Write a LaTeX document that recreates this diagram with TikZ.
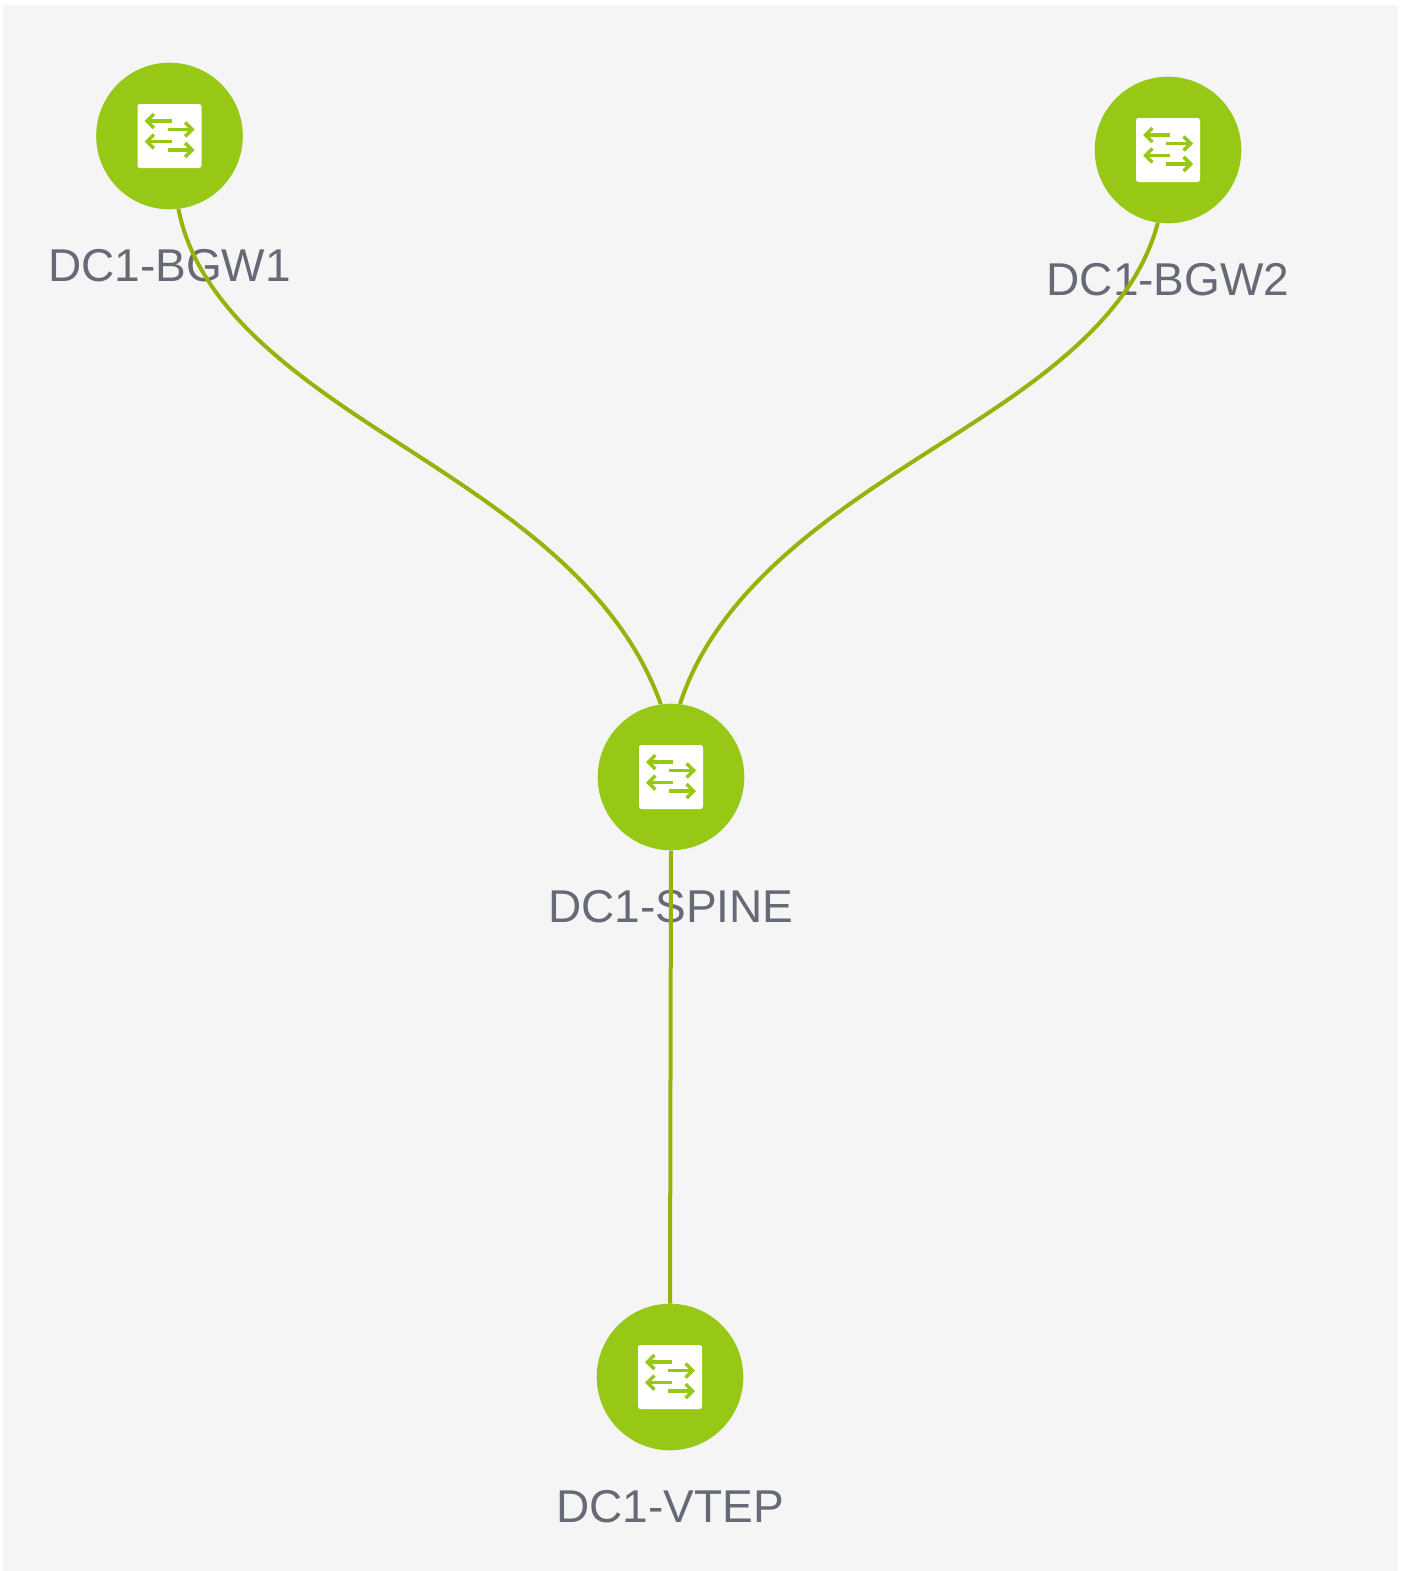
\documentclass[tikz,border=0pt]{standalone}
\usepackage{fontspec}
\setmainfont{Liberation Sans}
\usepackage{xcolor}
\usetikzlibrary{calc,arrows.meta}
\definecolor{nodegreen}{HTML}{97C816}
\definecolor{linkgreen}{HTML}{98B20C}
\definecolor{labelgrey}{HTML}{666A76}
\definecolor{panelgrey}{HTML}{F5F5F5}

\begin{document}
\begin{tikzpicture}[x=1pt,y=-1pt,
    swnode/.style={circle,fill=nodegreen,inner sep=0pt,minimum size=146.6pt},
    swicon/.style={fill=white,rounded corners=2.5pt,inner sep=0pt,minimum size=64pt},
    swlabel/.style={text=labelgrey,font=\fontsize{46}{50}\selectfont,inner sep=0pt},
    swarrow/.style={draw=nodegreen,line width=3.5pt,-{Straight Barb[length=7pt,width=14pt,line width=3.5pt]}},
    link/.style={draw=linkgreen,line width=4pt}]

    \useasboundingbox (0,0) rectangle (1407,1571);
    \fill[panelgrey] (3,5) rectangle (1398,1571);

    % Define the label offset as a coordinate
    \coordinate (labeloffset) at (0,130);

    \node[swlabel] (bgw1label) at ($(169.5,136)+(labeloffset)$) {DC1-BGW1};
    \node[swlabel] (bgw2label) at ($(1168,150)+(labeloffset)$) {DC1-BGW2};
    \node[swlabel] (spinelabel) at ($(671,777)+(labeloffset)$) {DC1-SPINE};
    \node[swlabel] (vteplabel) at ($(670,1377)+(labeloffset)$) {DC1-VTEP};

    \node[swnode] (bgw1) at (169.5,136) {};
    \node[swnode] (bgw2) at (1168,150) {};
    \node[swnode] (spine) at (671,777) {};
    \node[swnode] (vtep) at (670,1377) {};

    % icon on each switch
    \foreach \sw in {bgw1,bgw2,spine,vtep}
    {
        \node[swicon] (\sw icon) at (\sw) {};
        \draw[swarrow] ($(\sw)+(2,-15)$) -- ($(\sw)+(-25,-15)$);
        \draw[swarrow] ($(\sw)+(-2,-6.5)$) -- ($(\sw)+(25,-6.5)$);
        \draw[swarrow] ($(\sw)+(2,5.5)$) -- ($(\sw)+(-25,5.5)$);
        \draw[swarrow] ($(\sw)+(-2,14)$) -- ($(\sw)+(25,14)$);
    }

    % the two curved links bend through these points
    \coordinate (leftbend) at (420,457);
    \coordinate (rightbend) at (920,457);

    \draw[link] (bgw1.-83) .. controls (200,320) and (320,392) .. (leftbend)
        .. controls (515,519) and (620,590) .. (spine.98);
    \draw[link] (bgw2.-98) .. controls (1130,330) and (1010,399) .. (rightbend)
        .. controls (830,515) and (717,590) .. (spine.83);
    \draw[link] (spine.south) -- (vtep.north);

\end{tikzpicture}
\end{document}
